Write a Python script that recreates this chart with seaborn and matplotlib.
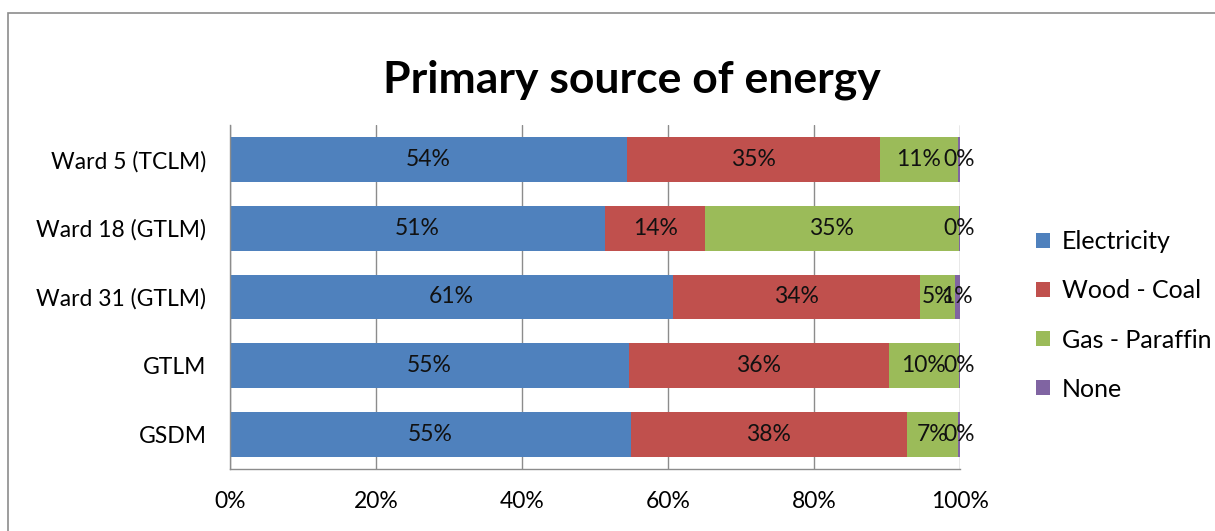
import numpy as np
import matplotlib
matplotlib.use("Agg")
import matplotlib.pyplot as plt
import seaborn as sns
from matplotlib.patches import Patch, Rectangle

categories = ["Ward 5 (TCLM)", "Ward 18 (GTLM)", "Ward 31 (GTLM)", "GTLM", "GSDM"]
series = ["Electricity", "Wood - Coal", "Gas - Paraffin", "None"]
electricity = [54.4, 51.4, 60.7, 54.6, 54.9]
wood_coal = [34.6, 13.7, 33.8, 35.7, 37.8]
gas_paraffin = [10.7, 34.7, 4.8, 9.5, 7.0]
none = [0.3, 0.2, 0.7, 0.2, 0.3]
colors = ["#4F81BD", "#C0504D", "#9BBB59", "#8064A2"]
xticks = [0, 20, 40, 60, 80, 100]

sns.set_theme(style="white")
plt.rcParams["font.family"] = ["Lato", "DejaVu Sans"]
plt.rcParams["text.color"] = "black"
plt.rcParams["xtick.color"] = "black"
plt.rcParams["ytick.color"] = "black"

values = np.array([electricity, wood_coal, gas_paraffin, none])
cum = np.cumsum(values, axis=0)

fig = plt.figure(figsize=(12.15, 5.31), dpi=100)
ax = fig.add_axes([0.1893, 0.1168, 0.6008, 0.6478])

# stacked bars: draw cumulative totals from the back forward
for i in range(len(series) - 1, -1, -1):
    sns.barplot(x=cum[i], y=categories, color=colors[i], orient="h",
                width=0.65, linewidth=0, saturation=1, ax=ax)

# segment labels
for i in range(len(series)):
    left = cum[i] - values[i]
    for j, cat in enumerate(categories):
        ax.text(left[j] + values[i][j] / 2, j, f"{values[i][j]:.0f}%",
                ha="center", va="center", fontsize=16.5, color="#111111")

ax.set_xlim(0, 100)
ax.set_ylim(len(categories) - 0.5, -0.5)
ax.set_xticks(xticks)
ax.set_xticklabels([f"{t}%" for t in xticks], fontsize=16.5)
ax.tick_params(axis="x", pad=16, length=0)
ax.tick_params(axis="y", labelsize=16.5, pad=17, length=0)
ax.set_xlabel("")
ax.set_ylabel("")
ax.xaxis.grid(True, color="#8c8c8c", linewidth=1)
ax.set_axisbelow(True)
for s in ["top", "right"]:
    ax.spines[s].set_visible(False)
for s in ["left", "bottom"]:
    ax.spines[s].set_color("#8c8c8c")
    ax.spines[s].set_linewidth(1)

fig.suptitle("Primary source of energy", x=0.52, y=0.85, fontsize=32,
             fontweight="bold", va="center")

handles = [Patch(facecolor=c, edgecolor="none") for c in colors]
fig.legend(handles, series, loc="center left", bbox_to_anchor=(0.834, 0.406),
           frameon=False, fontsize=18, handlelength=0.55, handleheight=0.55,
           handletextpad=0.5, labelspacing=1.05)

# outer chart border
fig.patches.append(Rectangle((0.0066, -0.05), 1.2, 1.0255, transform=fig.transFigure,
                             fill=False, edgecolor="#8c8c8c", linewidth=1.2))

fig.savefig("out.png", dpi=100)
